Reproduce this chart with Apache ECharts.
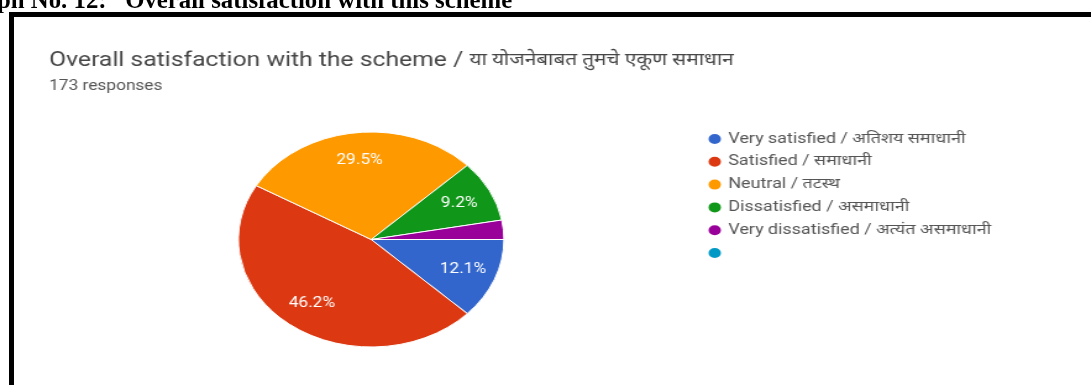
<!DOCTYPE html>
<html>
<head>
<meta charset="utf-8">
<title>Overall satisfaction with the scheme</title>
<script src="https://cdn.jsdelivr.net/npm/echarts@6/dist/echarts.min.js"></script>
<style>
  html, body { margin: 0; padding: 0; background: #ffffff; }
  #page { position: relative; width: 1091px; height: 385px; overflow: hidden; }
  #frame { position: absolute; left: 0; top: 0; width: 1091px; height: 385px; }
  /* the survey summary card is drawn with a wide aspect */
  #card { position: absolute; left: 0; top: 0; width: 883px; height: 385px;
          transform: scaleX(1.2355); transform-origin: 0 0; }
</style>
</head>
<body>
<div id="page">
  <div id="frame"></div>
  <div id="card"></div>
</div>
<script>
// Survey answers (173 responses), share of each answer in percent
const categories = [
  'Very satisfied / अतिशय समाधानी',
  'Satisfied / समाधानी',
  'Neutral / तटस्थ',
  'Dissatisfied / असमाधानी',
  'Very dissatisfied / अत्यंत असमाधानी',
  ' '
];
const shares = [12.1, 46.2, 29.5, 9.2, 2.9, 0];
const sliceColors = ['#3366cc', '#dc3912', '#ff9900', '#109618', '#990099', '#0099c6'];

const headingText = 'ph No. 12:   Overall satisfaction with this scheme';
const cardTitleEn = 'Overall satisfaction with the scheme / ';
const cardTitleMr = 'या योजनेबाबत तुमचे एकूण समाधान';
const responsesText = '173 responses';

const pieData = categories.map((name, i) => ({ name: name, value: shares[i] }));
const uiFont = 'Roboto, "Noto Sans", "DejaVu Sans", sans-serif';

// Heading and black frame around the figure
const frame = echarts.init(document.getElementById('frame'), null, { renderer: 'canvas' });
frame.setOption({
  animation: false,
  graphic: [
    {
      type: 'text', left: -3, top: -11,
      style: {
        text: headingText,
        font: 'bold 24.8px "Liberation Serif", "Times New Roman", serif',
        fill: '#000000'
      }
    },
    {
      type: 'rect',
      shape: { x: 11.5, y: 14.5, width: 1200, height: 500 },
      style: { fill: 'none', stroke: '#000000', lineWidth: 5 }
    }
  ]
});

// Survey summary card: title, pie and legend
const card = echarts.init(document.getElementById('card'), null, { renderer: 'canvas' });
const R = 107.5;
const center = [300.4, 239.5];
card.setOption({
  animation: false,
  color: sliceColors,
  title: [
    {
      text: '{en|' + cardTitleEn + '}{mr|' + cardTitleMr + '}',
      left: 39.7, top: 51, padding: 0,
      textStyle: {
        fontWeight: 'normal',
        rich: {
          en: { fontFamily: uiFont, fontSize: 20, fontWeight: 'normal', color: '#464646' },
          mr: { fontFamily: uiFont, fontSize: 16.8, fontWeight: 'normal', color: '#464646' }
        }
      }
    },
    {
      text: responsesText, left: 39.7, top: 79, padding: 0,
      textStyle: { fontFamily: uiFont, fontSize: 14, fontWeight: 'normal', color: '#555555' }
    }
  ],
  legend: {
    orient: 'vertical',
    left: 571.5,
    top: 131.5,
    padding: 0,
    icon: 'circle',
    itemWidth: 12,
    itemHeight: 12,
    itemGap: 7.8,
    data: categories,
    textStyle: { fontFamily: uiFont, fontSize: 14.5, color: '#555555' }
  },
  series: [
    {
      type: 'pie',
      center: center,
      radius: [0, R],
      startAngle: 0,
      clockwise: true,
      avoidLabelOverlap: false,
      data: pieData,
      itemStyle: { borderColor: '#ffffff', borderWidth: 1 },
      label: { show: false },
      labelLine: { show: false },
      emphasis: { disabled: true }
    },
    {
      // label ring: carries the percentage text further out from the centre
      type: 'pie',
      center: center,
      radius: [46.5, R],
      startAngle: 0,
      clockwise: true,
      silent: true,
      avoidLabelOverlap: false,
      data: pieData,
      itemStyle: { color: 'transparent', borderWidth: 0 },
      label: {
        show: true,
        position: 'inside',
        formatter: p => (p.value >= 5 ? p.value + '%' : ''),
        fontFamily: uiFont,
        fontSize: 14,
        color: '#ffffff'
      },
      labelLine: { show: false },
      emphasis: { disabled: true }
    }
  ]
});
</script>
</body>
</html>
